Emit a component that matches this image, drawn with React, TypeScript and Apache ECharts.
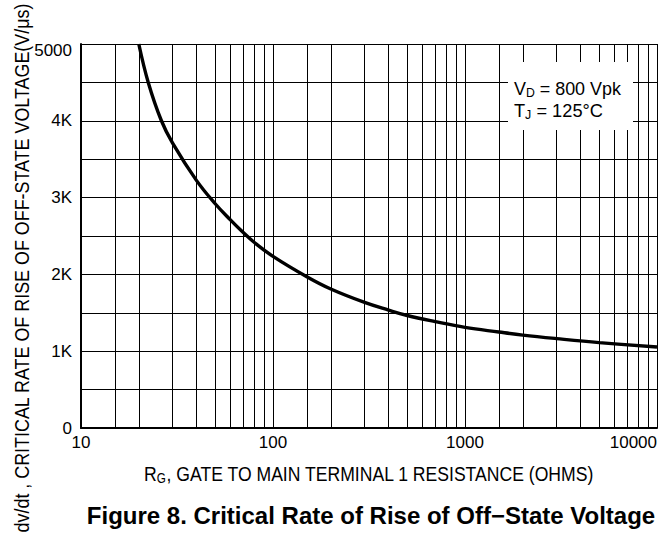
import React, { useEffect, useRef } from "react";
import * as echarts from "echarts";

const R_VALUES = [20, 22.4, 26.2, 30, 40, 50, 60, 70, 80, 100, 150, 200, 300, 400, 500, 700, 1000, 1500, 2000, 3000, 5000, 10000];
const DVDT_VALUES = [5000, 4500, 4004, 3709, 3221, 2920, 2710, 2545, 2415, 2235, 1970, 1810, 1635, 1535, 1465, 1385, 1310, 1250, 1210, 1164, 1112, 1055];
const X_GRID_VALUES = [15, 20, 30, 40, 50, 60, 70, 80, 90, 100, 150, 200, 300, 400, 500, 600, 700, 800, 900, 1000, 1500, 2000, 3000, 4000, 5000, 6000, 7000, 8000, 9000, 10000];
const Y_LABELS: Record<number, string> = { 0: "0", 1000: "1K", 2000: "2K", 3000: "3K", 4000: "4K", 5000: "5000" };

const SANS = "'Liberation Sans', Arial, Helvetica, sans-serif";

function measure(text: string, size: number): number {
  const ctx = document.createElement("canvas").getContext("2d")!;
  ctx.font = size + "px 'Liberation Sans', Arial, sans-serif";
  return ctx.measureText(text).width;
}

export default function App() {
  const ref = useRef<HTMLDivElement>(null);
  useEffect(() => {
    document.body.style.margin = "0";
    const chart = echarts.init(ref.current!, null, { renderer: "svg" });
    const data = R_VALUES.map((r, i) => [r, DVDT_VALUES[i]]);

    const yName = "dv/dt , CRITICAL RATE OF RISE OF OFF-STATE VOLTAGE(V/\u03BCs)";
    const yNameScale = 530 / measure(yName, 20);
    const xNameMain = ", GATE TO MAIN TERMINAL 1 RESISTANCE (OHMS)";
    const xNameW = measure("R" + xNameMain, 21) + measure("G", 14);
    const xNameScale = 450 / xNameW;
    const vdW = measure("V = 800 Vpk", 19) + measure("D", 13);
    const tjW = measure("T = 125\u00B0C", 19) + measure("J", 13);
    const vdScale = 107 / vdW;
    const tjScale = 89 / tjW;

    const richN = (size: number) => ({ fontFamily: SANS, fontSize: size, fill: "#000" });
    const richS = (size: number, pad: number) => ({ fontFamily: SANS, fontSize: size, fill: "#000", padding: [pad, 0, 0, 0] });

    chart.setOption({
      animation: false,
      backgroundColor: "#fff",
      title: {
        text: "Figure 8. Critical Rate of Rise of Off\u2212State Voltage",
        left: 366,
        textAlign: "center",
        top: 498,
        textStyle: { fontFamily: SANS, fontWeight: "bold", fontSize: 24, color: "#000" },
      },
      grid: { left: 81, right: 6, top: 44, bottom: 110, containLabel: false },
      xAxis: {
        type: "log",
        logBase: 10,
        min: 10,
        max: 10000,
        axisLine: { show: true, lineStyle: { color: "#000", width: 2 } },
        axisTick: { show: false },
        splitLine: { show: false },
        axisLabel: {
          color: "#000",
          fontFamily: SANS,
          fontSize: 17,
          margin: 6,
          alignMaxLabel: "right",
          formatter: (v: number) => String(Math.round(v)),
        },
      },
      yAxis: {
        type: "value",
        min: 0,
        max: 5000,
        interval: 500,
        axisLine: { show: true, lineStyle: { color: "#000", width: 2 } },
        axisTick: { show: false },
        splitLine: { show: true, lineStyle: { color: "#000", width: 1 } },
        axisLabel: {
          color: "#000",
          fontFamily: SANS,
          fontSize: 17,
          margin: 9,
          formatter: (v: number) => {
            const s = Y_LABELS[v];
            if (s === undefined) return "";
            return v === 5000 ? "{t|" + s + "}" : s;
          },
          rich: { t: { fontFamily: SANS, fontSize: 17, color: "#000", padding: [12, 0, 0, 0] } },
        },
      },
      series: [
        {
          type: "line",
          data,
          showSymbol: false,
          smooth: 0.4,
          lineStyle: { color: "#000", width: 3.4 },
          z: 3,
          markLine: {
            silent: true,
            symbol: ["none", "none"],
            label: { show: false },
            lineStyle: { color: "#000", width: 1, type: "solid" },
            data: X_GRID_VALUES.map((v) => ({ xAxis: v })),
            z: 1,
          },
        },
      ],
      graphic: [
        {
          type: "rect",
          z: 100,
          shape: { x: 508, y: 62, width: 125, height: 68 },
          style: { fill: "#fff" },
        },
        {
          type: "text",
          z: 101,
          x: 514,
          y: 88,
          scaleX: vdScale,
          style: {
            text: "{n|V}{s|D}{n| = 800 Vpk}",
            verticalAlign: "middle",
            rich: { n: richN(19), s: richS(13, 9) },
          },
        },
        {
          type: "text",
          z: 101,
          x: 514,
          y: 110,
          scaleX: tjScale,
          style: {
            text: "{n|T}{s|J}{n| = 125\u00B0C}",
            verticalAlign: "middle",
            rich: { n: richN(19), s: richS(13, 9) },
          },
        },
        {
          type: "text",
          z: 101,
          x: 369,
          y: 473,
          scaleX: xNameScale,
          style: {
            text: "{n|R}{s|G}{n|" + xNameMain + "}",
            align: "center",
            verticalAlign: "middle",
            rich: { n: richN(21), s: richS(14, 10) },
          },
        },
        {
          type: "text",
          z: 101,
          x: 22,
          y: 268,
          rotation: Math.PI / 2,
          scaleX: yNameScale,
          style: {
            text: yName,
            fontFamily: SANS,
            fontSize: 20,
            fill: "#000",
            align: "center",
            verticalAlign: "middle",
          },
        },
      ],
    });
    return () => chart.dispose();
  }, []);
  return <div ref={ref} style={{ width: 663, height: 538 }} />;
}
